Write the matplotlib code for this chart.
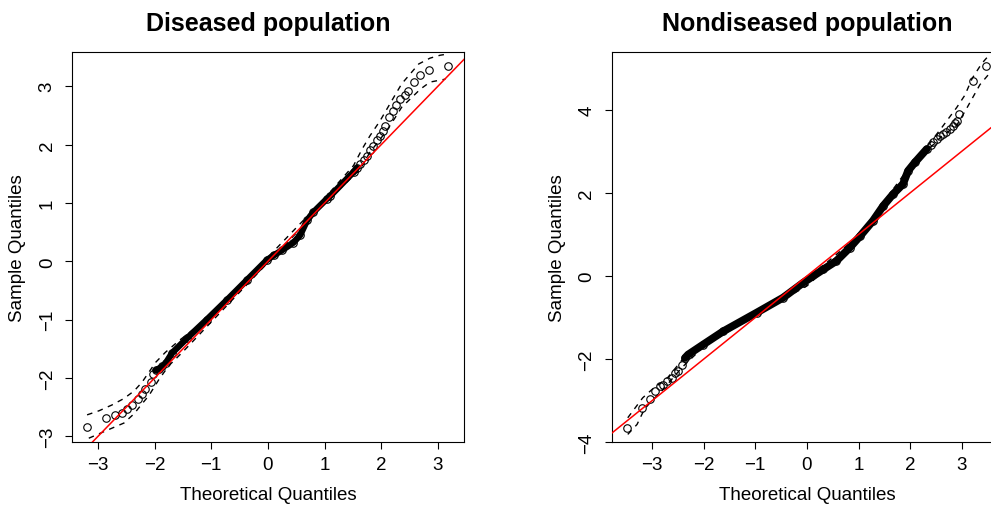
import matplotlib
matplotlib.use("Agg")
import matplotlib.pyplot as plt

plt.rcParams['font.family'] = ['Liberation Sans', 'DejaVu Sans']

# Diseased population: points
dis_theo = [-3.19, -2.85, -2.69, -2.57, -2.48, -2.39, -2.30, -2.23, -2.16, -2.07, -2.03, -1.98,
            -1.92, -1.86, -1.80, -1.69, -1.43, -1.08, -0.72, -0.37, -0.02, 0.10, 0.25, 0.45,
            0.57, 0.69, 0.80, 1.04, 1.10, 1.51, 1.57, 1.63, 1.69, 1.75, 1.80, 1.86, 1.92, 1.98,
            2.03, 2.07, 2.14, 2.20, 2.26, 2.33, 2.41, 2.47, 2.57, 2.69, 2.84, 3.17]
dis_samp = [-2.84, -2.68, -2.64, -2.59, -2.53, -2.46, -2.36, -2.27, -2.19, -2.06, -1.93, -1.87,
            -1.84, -1.80, -1.74, -1.57, -1.32, -1.00, -0.66, -0.32, 0.02, 0.10, 0.19, 0.32,
            0.45, 0.70, 0.84, 1.07, 1.12, 1.53, 1.60, 1.67, 1.74, 1.81, 1.90, 1.98, 2.07, 2.15,
            2.24, 2.32, 2.47, 2.58, 2.68, 2.78, 2.85, 2.92, 3.07, 3.19, 3.28, 3.35]
dis_up_x = [-3.19, -2.98, -2.75, -2.54, -2.36, -2.22, -1.98, -1.81, -1.57, -1.0, 0.0, 1.0,
            1.51, 1.66, 1.80, 1.98, 2.10, 2.25, 2.36, 2.51, 2.66, 2.86, 3.04, 3.17]
dis_up_y = [-2.63, -2.56, -2.46, -2.35, -2.22, -2.07, -1.73, -1.56, -1.36, -0.93, 0.07, 1.08,
            1.64, 1.92, 2.15, 2.41, 2.61, 2.86, 3.04, 3.21, 3.38, 3.48, 3.53, 3.55]
dis_lo_x = [-3.16, -2.78, -2.54, -2.36, -2.22, -2.10, -1.92, -1.75, -1.51, -1.0, 0.0, 1.0,
            1.63, 1.80, 1.98, 2.13, 2.25, 2.36, 2.51, 2.69, 2.86, 3.13]
dis_lo_y = [-3.03, -2.87, -2.77, -2.61, -2.44, -2.30, -2.02, -1.79, -1.56, -1.04, -0.02, 0.99,
            1.58, 1.87, 2.09, 2.29, 2.47, 2.64, 2.78, 2.95, 3.07, 3.12]

# Nondiseased population
nd_theo = [-3.49, -3.20, -3.04, -2.94, -2.84, -2.78, -2.71, -2.62, -2.55, -2.49, -2.42, -2.36,
           -2.30, -2.01, -1.62, -0.97, -0.46, -0.07, 0.32, 0.57, 0.83, 1.03, 1.28, 1.48, 1.67,
           1.86, 1.96, 2.09, 2.32, 2.40, 2.45, 2.51, 2.58, 2.64, 2.70, 2.77, 2.82, 2.87, 2.90,
           2.95, 3.22, 3.46]
nd_samp = [-3.65, -3.17, -2.95, -2.77, -2.65, -2.61, -2.53, -2.45, -2.33, -2.29, -2.14, -1.97,
           -1.89, -1.65, -1.33, -0.88, -0.52, -0.16, 0.16, 0.36, 0.68, 0.96, 1.33, 1.69, 1.97,
           2.21, 2.53, 2.73, 3.05, 3.15, 3.22, 3.29, 3.36, 3.41, 3.47, 3.53, 3.60, 3.68, 3.73,
           3.90, 4.68, 5.06]
nd_up_x = [-3.47, -3.18, -3.00, -2.70, -2.30, -2.00, -0.97, 0.0, 1.03, 1.96, 2.32, 2.60, 2.90,
           3.06, 3.20, 3.38, 3.52]
nd_up_y = [-3.41, -2.93, -2.73, -2.45, -1.84, -1.60, -0.84, -0.08, 1.00, 2.58, 3.10, 3.55,
           4.05, 4.35, 4.75, 5.10, 5.30]
nd_lo_x = [-3.47, -3.29, -3.15, -3.04, -2.80, -2.42, -2.00, -0.97, 0.0, 1.03, 1.96, 2.32, 2.60,
           2.90, 3.08, 3.35, 3.52]
nd_lo_y = [-3.81, -3.57, -3.21, -3.05, -2.75, -2.20, -1.70, -0.92, -0.24, 0.92, 2.48, 3.00,
           3.35, 3.62, 4.00, 4.60, 4.85]

# qqline (intercept, slope)
dis_line = (0.0, 1.0)
nd_line = (0.0, 1.0)

panels = [
    dict(title="Diseased population", theo=dis_theo, samp=dis_samp,
         up=(dis_up_x, dis_up_y), lo=(dis_lo_x, dis_lo_y), line=dis_line,
         dense=(-1.98, 1.57), band=4.6,
         pos=[0.0730, 0.1239, 0.3953, 0.7708], xlim=(-3.45, 3.46), ylim=(-3.10, 3.58),
         yticks=[-3, -2, -1, 0, 1, 2, 3]),
    dict(title="Nondiseased population", theo=nd_theo, samp=nd_samp,
         up=(nd_up_x, nd_up_y), lo=(nd_lo_x, nd_lo_y), line=nd_line,
         dense=(-2.36, 2.32), band=5.6,
         pos=[0.6173, 0.1239, 0.3939, 0.7708], xlim=(-3.78, 3.78), ylim=(-4.0, 5.38),
         yticks=[-4, -2, 0, 2, 4]),
]

fig = plt.figure(figsize=(9.91, 5.06), dpi=100)

for p in panels:
    ax = fig.add_axes(p["pos"])
    theo, samp = p["theo"], p["samp"]
    lo_d, hi_d = p["dense"]
    dx = [t for t in theo if lo_d <= t <= hi_d]
    dy = [s for t, s in zip(theo, samp) if lo_d <= t <= hi_d]
    ax.plot(dx, dy, color='black', lw=p["band"], solid_capstyle='round',
            solid_joinstyle='round', zorder=2)
    ax.plot(theo, samp, 'o', ms=5.4, mfc='none', mec='black', mew=0.8, zorder=3)
    ax.plot(*p["up"], color='black', lw=1.0, linestyle=(0, (4, 4)), zorder=2)
    ax.plot(*p["lo"], color='black', lw=1.0, linestyle=(0, (4, 4)), zorder=2)
    b, a = p["line"]
    ax.axline((0, b), slope=a, color='red', lw=1.1, zorder=4)

    ax.set_xlim(*p["xlim"])
    ax.set_ylim(*p["ylim"])
    ax.set_xticks([-3, -2, -1, 0, 1, 2, 3])
    ax.set_yticks(p["yticks"])
    ax.tick_params(direction='out', length=5, width=0.8, labelsize=13.5)
    ax.tick_params(axis='x', pad=5)
    ax.tick_params(axis='y', pad=13)
    for lab in ax.get_yticklabels():
        lab.set_rotation(90)
        lab.set_va('center')
        lab.set_ha('center')
    for s in ax.spines.values():
        s.set_linewidth(0.8)

    ax.set_title(p["title"], fontsize=18, fontweight='bold', pad=16)
    ax.set_xlabel("Theoretical Quantiles", fontsize=13.5)
    ax.set_ylabel("Sample Quantiles", fontsize=13.5)
    ax.xaxis.label.set_va('center')
    ax.yaxis.label.set_va('center')
    ax.xaxis.set_label_coords(0.5, -0.133)
    ax.yaxis.set_label_coords(-0.139, 0.5)

fig.savefig("out.png", dpi=100)
